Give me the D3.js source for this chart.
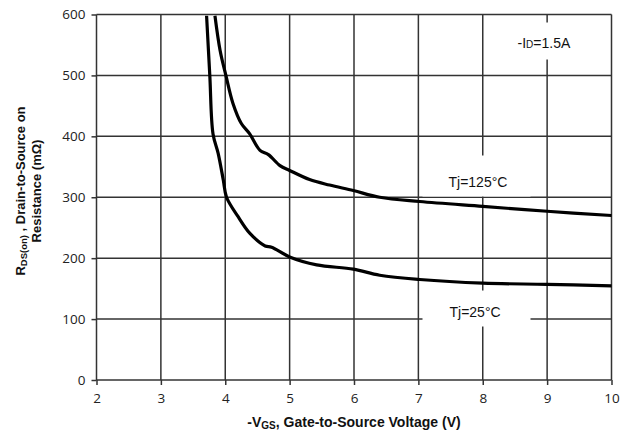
<!DOCTYPE html>
<html>
<head>
<meta charset="utf-8">
<script src="https://cdn.jsdelivr.net/npm/d3@7"></script>
<style>
  body { margin: 0; background: #fff; }
  svg { display: block; overflow: visible; }
  .title { font-family: "Liberation Sans", Arial, sans-serif; font-weight: bold; fill: #111; }
  .note { font-family: "Liberation Sans", Arial, sans-serif; font-size: 14px; fill: #111; }
</style>
</head>
<body>
<svg id="chart"></svg>
<script>
// set up constants
const width = 630;
const height = 438;
const margin = { top: 14.5, right: 18.5, bottom: 58, left: 96.5 };
const innerWidth = width - margin.left - margin.right;
const innerHeight = height - margin.top - margin.bottom;

// data
const xTicks = [2, 3, 4, 5, 6, 7, 8, 9, 10];
const yTicks = [0, 100, 200, 300, 400, 500, 600];

const vgs25 = [3.71, 3.76, 3.81, 3.89, 3.97, 4.02, 4.2, 4.38, 4.62, 4.72, 5.0, 5.42, 5.99, 6.4, 7.02, 8, 9, 10];
const r25 = [598, 500, 404, 372, 328, 300, 268, 241, 220, 218, 202, 189, 182, 172, 165, 159, 157, 154.5];

const vgs125 = [3.84, 3.92, 4.01, 4.12, 4.25, 4.38, 4.54, 4.67, 4.85, 5.0, 5.31, 5.62, 5.99, 6.4, 7.02, 8, 9, 10];
const r125 = [598, 541, 500, 454, 421, 404, 377, 370, 352, 344, 329, 320, 311, 300, 293, 285, 277, 270];

const svg = d3.select('#chart')
  .attr('width', width)
  .attr('height', height);

// create scales
const xScale = d3.scaleLinear()
  .domain([2, 10])
  .range([0, innerWidth]);

const yScale = d3.scaleLinear()
  .domain([0, 600])
  .range([innerHeight, 0]);

const g = svg.append('g')
  .attr('transform', `translate(${margin.left}, ${margin.top})`);

// grid
g.append('g')
  .selectAll('line')
  .data(xTicks)
  .enter()
  .append('line')
  .attr('x1', d => xScale(d))
  .attr('x2', d => xScale(d))
  .attr('y1', 0)
  .attr('y2', innerHeight)
  .attr('stroke', '#333')
  .attr('stroke-width', 1.5);

g.append('g')
  .selectAll('line')
  .data(yTicks)
  .enter()
  .append('line')
  .attr('x1', 0)
  .attr('x2', innerWidth)
  .attr('y1', d => yScale(d))
  .attr('y2', d => yScale(d))
  .attr('stroke', '#333')
  .attr('stroke-width', 1.5);

// axes
const xAxis = d3.axisBottom(xScale).tickValues(xTicks).tickSize(5).tickPadding(8);
const yAxis = d3.axisLeft(yScale).tickValues(yTicks).tickSize(5).tickPadding(6);

function styleAxis(a) {
  a.attr('font-size', 13.5).attr('font-family', '"Open Sans", sans-serif');
  a.select('.domain').remove();
  a.selectAll('.tick line').attr('stroke', '#333').attr('stroke-width', 1.5);
  a.selectAll('.tick text').attr('fill', '#222');
}

g.append('g')
  .attr('transform', `translate(0, ${innerHeight})`)
  .call(xAxis)
  .call(styleAxis);

g.append('g')
  .call(yAxis)
  .call(styleAxis);

// label boxes (white, covering the grid)
const boxes = [
  { x: 408, y: 8, w: 86, h: 37 },
  { x: 326, y: 141, w: 108, h: 41 },
  { x: 326, y: 276, w: 108, h: 36 }
];
g.selectAll('rect.box')
  .data(boxes)
  .enter()
  .append('rect')
  .attr('class', 'box')
  .attr('x', d => d.x)
  .attr('y', d => d.y)
  .attr('width', d => d.w)
  .attr('height', d => d.h)
  .attr('fill', '#fff');

// curves
const line = d3.line()
  .x(d => xScale(d[0]))
  .y(d => yScale(d[1]))
  .curve(d3.curveCatmullRom.alpha(0.5));

g.append('path')
  .datum(vgs25.map((v, i) => [v, r25[i]]))
  .attr('d', line)
  .attr('fill', 'none')
  .attr('stroke', '#000')
  .attr('stroke-width', 3.2);

g.append('path')
  .datum(vgs125.map((v, i) => [v, r125[i]]))
  .attr('d', line)
  .attr('fill', 'none')
  .attr('stroke', '#000')
  .attr('stroke-width', 3.2);

// annotations
const id = g.append('text')
  .attr('class', 'note')
  .attr('x', 421)
  .attr('y', 33);
id.append('tspan').text('-I');
id.append('tspan').attr('font-size', '10px').text('D');
id.append('tspan').text('=1.5A');

g.append('text')
  .attr('class', 'note')
  .attr('x', 352)
  .attr('y', 172)
  .text('Tj=125\u00B0C');

g.append('text')
  .attr('class', 'note')
  .attr('x', 353)
  .attr('y', 302)
  .text('Tj=25\u00B0C');

// axis titles
const xt = svg.append('text')
  .attr('class', 'title')
  .attr('font-size', '14px')
  .attr('text-anchor', 'middle')
  .attr('x', 354)
  .attr('y', 427);
xt.append('tspan').text('-V');
xt.append('tspan').attr('font-size', '10px').attr('dy', 2).text('GS');
xt.append('tspan').attr('dy', -2).text(', Gate-to-Source Voltage (V)');

const yt = svg.append('text')
  .attr('class', 'title')
  .attr('font-size', '13px')
  .attr('text-anchor', 'middle')
  .attr('transform', 'translate(25, 191) rotate(-90)');
yt.append('tspan').text('R');
yt.append('tspan').attr('font-size', '9.5px').attr('dy', 2).text('DS(on)');
yt.append('tspan').attr('dy', -2).text(' , Drain-to-Source on');

svg.append('text')
  .attr('class', 'title')
  .attr('font-size', '13px')
  .attr('text-anchor', 'middle')
  .attr('transform', 'translate(41, 191) rotate(-90)')
  .text('Resistance (m\u03A9)');
</script>
</body>
</html>
